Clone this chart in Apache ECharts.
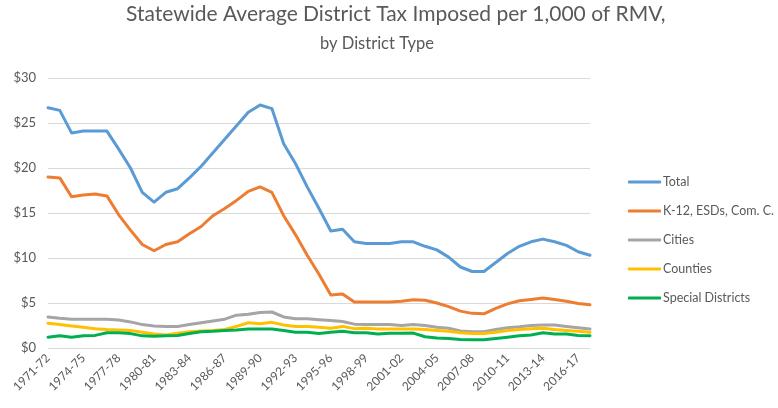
<!DOCTYPE html>
<html>
<head>
<meta charset="utf-8">
<script src="https://cdn.jsdelivr.net/npm/echarts@6/dist/echarts.min.js"></script>
<style>
html,body{margin:0;padding:0;background:#fff;}
#chart{width:778px;height:408px;}
</style>
</head>
<body>
<div id="chart"></div>
<script>
const years = ["1971-72","1972-73","1973-74","1974-75","1975-76","1976-77","1977-78","1978-79","1979-80","1980-81",
"1981-82","1982-83","1983-84","1984-85","1985-86","1986-87","1987-88","1988-89","1989-90","1990-91",
"1991-92","1992-93","1993-94","1994-95","1995-96","1996-97","1997-98","1998-99","1999-00","2000-01",
"2001-02","2002-03","2003-04","2004-05","2005-06","2006-07","2007-08","2008-09","2009-10","2010-11",
"2011-12","2012-13","2013-14","2014-15","2015-16","2016-17","2017-18"];

const total = [26.7, 26.4, 23.9, 24.1, 24.1, 24.1, 22.1, 20.0, 17.3, 16.2,
17.3, 17.7, 18.9, 20.2, 21.7, 23.2, 24.7, 26.2, 27.0, 26.6,
22.7, 20.5, 17.9, 15.5, 13.0, 13.2, 11.8, 11.6, 11.6, 11.6,
11.8, 11.8, 11.3, 10.9, 10.1, 9.0, 8.5, 8.5, 9.5, 10.5,
11.3, 11.8, 12.1, 11.8, 11.4, 10.7, 10.3];

const k12 = [19.0, 18.9, 16.8, 17.0, 17.1, 16.9, 14.8, 13.1, 11.5, 10.8,
11.5, 11.8, 12.7, 13.5, 14.7, 15.5, 16.4, 17.4, 17.9, 17.3,
14.7, 12.6, 10.3, 8.2, 5.9, 6.0, 5.1, 5.1, 5.1, 5.1,
5.2, 5.35, 5.3, 5.0, 4.6, 4.1, 3.85, 3.8, 4.4, 4.9,
5.25, 5.4, 5.55, 5.4, 5.2, 4.95, 4.8];

const cities = [3.45, 3.3, 3.2, 3.2, 3.2, 3.2, 3.1, 2.9, 2.6, 2.45,
2.4, 2.4, 2.6, 2.8, 3.0, 3.2, 3.65, 3.75, 3.95, 4.0,
3.45, 3.25, 3.25, 3.15, 3.05, 2.95, 2.65, 2.6, 2.6, 2.6,
2.5, 2.6, 2.5, 2.3, 2.2, 1.9, 1.8, 1.8, 2.05, 2.25,
2.35, 2.5, 2.55, 2.55, 2.4, 2.25, 2.1];

const counties = [2.75, 2.6, 2.45, 2.3, 2.15, 2.05, 2.0, 1.95, 1.75, 1.55,
1.45, 1.65, 1.8, 1.9, 1.95, 2.05, 2.4, 2.8, 2.7, 2.85,
2.55, 2.4, 2.4, 2.3, 2.2, 2.4, 2.15, 2.2, 2.1, 2.1,
2.1, 2.1, 2.05, 1.95, 1.85, 1.7, 1.6, 1.6, 1.75, 1.95,
2.05, 2.15, 2.2, 2.05, 1.95, 1.85, 1.75];

const special = [1.2, 1.35, 1.2, 1.35, 1.4, 1.7, 1.7, 1.6, 1.35, 1.3,
1.35, 1.4, 1.6, 1.8, 1.85, 1.95, 2.0, 2.1, 2.1, 2.1,
1.95, 1.75, 1.75, 1.6, 1.75, 1.85, 1.7, 1.7, 1.55, 1.65,
1.65, 1.66, 1.25, 1.1, 1.05, 0.95, 0.92, 0.92, 1.05, 1.2,
1.35, 1.45, 1.7, 1.55, 1.55, 1.4, 1.36];

const seriesNames = ["Total", "K-12, ESDs, Com. C.", "Cities", "Counties", "Special Districts"];
const seriesColors = ["#5B9BD5", "#ED7D31", "#A5A5A5", "#FFC000", "#00B050"];
const seriesData = [total, k12, cities, counties, special];

const titleText = "Statewide Average District Tax Imposed per 1,000 of RMV,";
const subtitleText = "by District Type";

const FONT = "Lato, 'Open Sans', sans-serif";
const TXT = "#595959";

const chart = echarts.init(document.getElementById('chart'), null, {renderer: 'canvas'});
chart.setOption({
  animation: false,
  backgroundColor: '#fff',
  textStyle: {fontFamily: FONT},
  graphic: [
    {type: 'text', left: 126, top: 4, style: {text: titleText, fill: TXT, font: "21px " + FONT}},
    {type: 'text', top: 35, left: 320, style: {text: subtitleText, fill: TXT, font: "16.5px " + FONT}}
  ],
  grid: {left: 48, right: 188, top: 78, bottom: 60, containLabel: false},
  legend: {
    orient: 'vertical',
    left: 623, top: 169,
    itemWidth: 33, itemHeight: 3, itemGap: 13,
    icon: 'roundRect',
    data: seriesNames,
    textStyle: {color: TXT, fontSize: 12.5, lineHeight: 16, fontFamily: FONT, padding: [0,0,0,-3]}
  },
  xAxis: {
    type: 'category',
    data: years,
    boundaryGap: false,
    axisLine: {show: false},
    axisTick: {show: false},
    axisLabel: {rotate: 45, interval: 2, color: TXT, fontSize: 12, margin: 8, fontFamily: FONT}
  },
  yAxis: {
    type: 'value',
    min: 0, max: 30, interval: 5,
    axisLine: {show: false},
    axisTick: {show: false},
    splitLine: {lineStyle: {color: '#D9D9D9', width: 1}},
    axisLabel: {formatter: '${value}', color: TXT, fontSize: 13, margin: 12, fontFamily: FONT}
  },
  series: seriesNames.map((n, i) => ({
    name: n,
    type: 'line',
    data: seriesData[i],
    symbol: 'none',
    color: seriesColors[i],
    lineStyle: {width: 3, color: seriesColors[i], join: 'round', cap: 'round'}
  }))
});
</script>
</body>
</html>
